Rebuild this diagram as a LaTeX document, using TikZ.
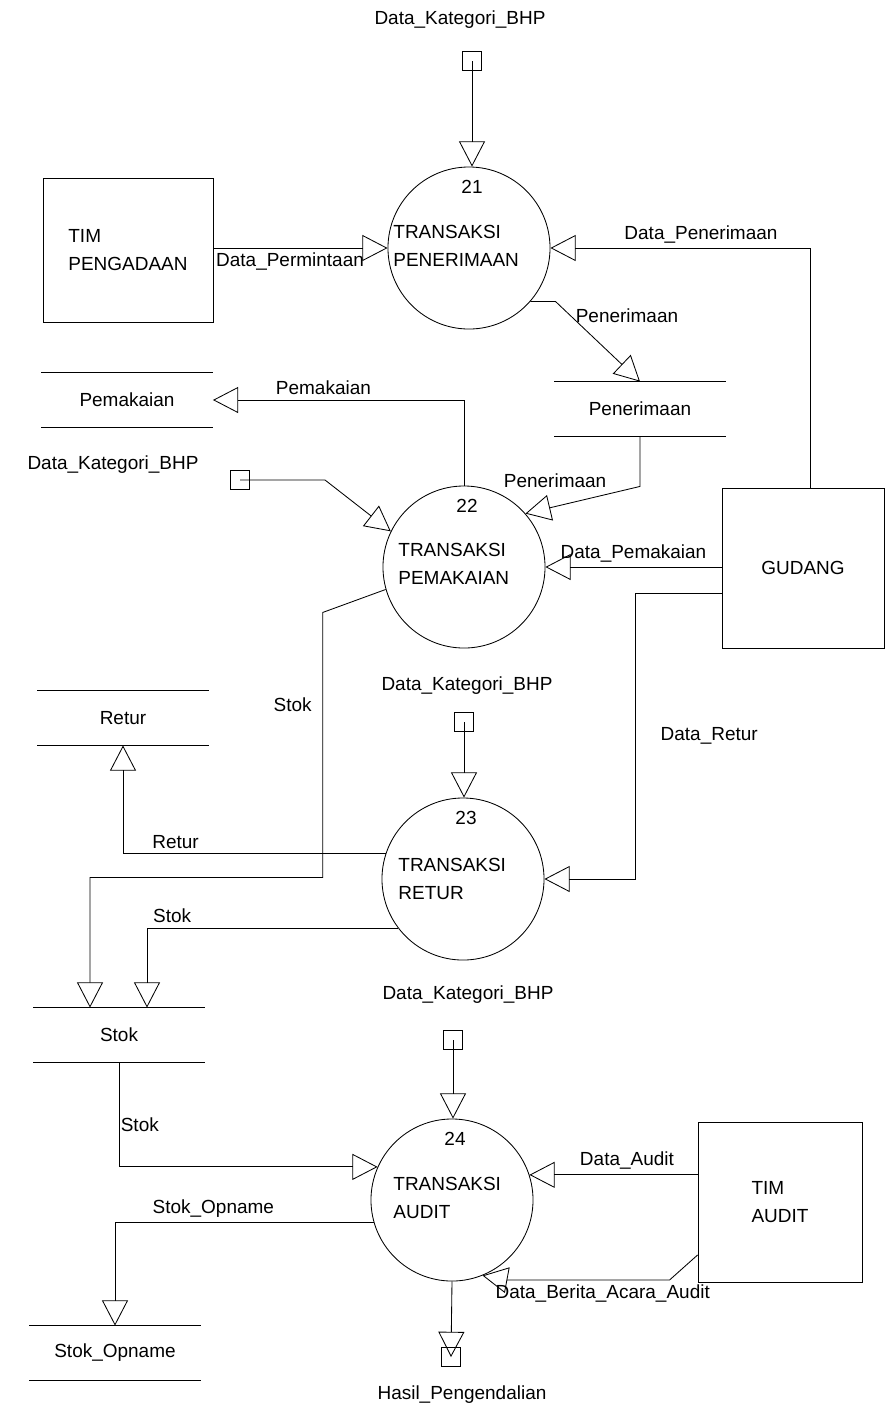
\documentclass[tikz,border=0pt]{standalone}
\usepackage{fontspec}
\setmainfont{Liberation Sans}
\usetikzlibrary{arrows.meta, positioning, calc}

\begin{document}
\begin{tikzpicture}[
  x=0.025cm, y=-0.025cm,
  font=\fontsize{13.5}{20}\selectfont,
  >={Triangle[open, length=6.3mm, width=6.5mm]},
  line width=0.6pt,
  proc/.style={circle, draw, minimum size=4.05cm, inner sep=0pt},
  ptext/.style={anchor=west, align=left, inner sep=0pt},
  entity/.style={rectangle, draw, align=left},
  store/.style={rectangle, minimum width=4.275cm, minimum height=1.35cm},
  term/.style={rectangle, draw, minimum size=4.7mm, inner sep=0pt},
  flow/.style={->},
]
\useasboundingbox (0,0) rectangle (885,1410);

% --- processes ---
\node[proc] (p21) at (469,248)  {};
\node[proc] (p22) at (464,567)  {};
\node[proc] (p23) at (463,879)  {};
\node[proc] (p24) at (452,1200) {};

\foreach \p/\n in {p21/21, p22/22, p23/23, p24/24}
  \node (n\n) at ($(\p.north)+(3,20)$) {\n};

\node[ptext] (t21) at ($(p21.center)+(-76,-2)$) {TRANSAKSI\\PENERIMAAN};
\node[ptext] (t22) at ($(p22.center)+(-66,-3)$) {TRANSAKSI\\PEMAKAIAN};
\node[ptext] (t23) at ($(p23.center)+(-65,0)$)  {TRANSAKSI\\RETUR};
\node[ptext] (t24) at ($(p24.center)+(-59,-2)$) {TRANSAKSI\\AUDIT};

% --- external entities ---
\node[entity, minimum width=4.25cm, minimum height=3.6cm] (ePengadaan) at (128,250) {TIM\\PENGADAAN};
\node[entity, minimum width=4.05cm, minimum height=4cm]   (eGudang)    at (803,568) {GUDANG};
\node[entity, minimum width=4.1cm,  minimum height=4cm]   (eAudit)     at (780,1202) {TIM\\AUDIT};

% --- data stores ---
\node[store] (sPemakaian)  at (127,400)  {Pemakaian};
\node[store] (sPenerimaan) at (640,409)  {Penerimaan};
\node[store] (sRetur)      at (123,718)  {Retur};
\node[store] (sStok)       at (119,1035) {Stok};
\node[store] (sOpname)     at (115,1353) {Stok\_Opname};
\foreach \s in {sPemakaian,sPenerimaan,sRetur,sStok,sOpname}
  \draw (\s.north west) -- (\s.north east) (\s.south west) -- (\s.south east);

% --- small terminators ---
\node[term] (kat1)  at (472,61)   {};
\node[term] (kat2)  at (240,480)  {};
\node[term] (kat3)  at (464,722)  {};
\node[term] (kat4)  at (453,1040) {};
\node[term] (hasil) at (451,1357) {};
\node (lkat1)  at (460,20)   {Data\_Kategori\_BHP};
\node (lkat2)  at (113,465)  {Data\_Kategori\_BHP};
\node (lkat3)  at (467,686)  {Data\_Kategori\_BHP};
\node (lkat4)  at (468,995)  {Data\_Kategori\_BHP};
\node (lhasil) at (462,1395) {Hasil\_Pengendalian};

% --- flows ---
\draw[flow] (kat1.center) -- (kat1.center |- p21.north);
\draw[flow] (kat2.center) -- ++(85,0) -- (p22.154);
\draw[flow] (kat3.center) -- (kat3.center |- p23.north);
\draw[flow] (kat4.center) -- (kat4.center |- p24.north);
\draw[flow] (p24.south) -- (hasil.center);

\draw[flow] (p21.west -| ePengadaan.east) -- node[pos=0.44, below] {Data\_Permintaan} (p21.west);
\draw[flow] ($(eGudang.north)+(7,0)$) |- node[pos=0.71, above] {Data\_Penerimaan} (p21.east);
\draw[flow] (p21.-41) -- ++(25,0) -- node[pos=0.18, right] {Penerimaan} (sPenerimaan.north);
\draw[flow] (sPenerimaan.south) -- ++(0,50) -- node[pos=0.25, above left] {Penerimaan} (p22.41);
\draw[flow] (p22.north) |- node[pos=0.78, above] {Pemakaian} (sPemakaian.east);
\draw[flow] (p22.east -| eGudang.west) -- node[above] {Data\_Pemakaian} (p22.east);
\draw[flow] ($(eGudang.west)+(0,25)$) -- ++(-86,0) |- node[pos=0.25, right=5mm] {Data\_Retur} (p23.east);
\draw[flow] (p22.196) -- ++(-63,23) -- node[pos=0.35, left=1.5mm] {Stok} ++(0,265) -| ($(sStok.north)+(-29,0)$);
\draw[flow] (p23.162) -| node[pos=0.4, above] {Retur} (sRetur.south);
\draw[flow] (p23.217) -| node[pos=0.45, above] {Stok} ($(sStok.north)+(28,0)$);
\draw[flow] (sStok.south) |- node[pos=0.3, right, inner sep=1pt] {Stok} (p24.156);
\draw[flow] (p24.196) -| node[pos=0.31, above] {Stok\_Opname} (sOpname.north);
\draw[flow] (p24.18 -| eAudit.west) -- node[pos=0.42, above] {Data\_Audit} (p24.18);
\draw[flow] ($(eAudit.west)+(0,53)$) -- ++(-28,25) -- node[pos=0.41, below] {Data\_Berita\_Acara\_Audit} ++(-163,0) -- (p24.-68);

\end{tikzpicture}
\end{document}
